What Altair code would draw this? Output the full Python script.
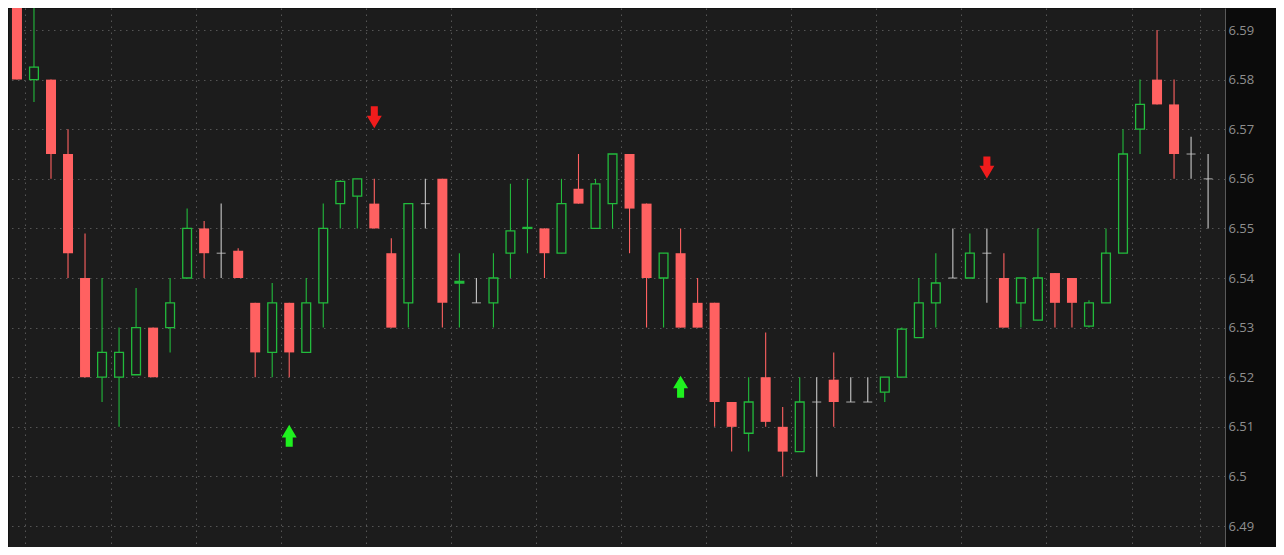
import altair as alt
import pandas as pd

# ---- candle data (index 0..70) ----
opens = [6.600, 6.580, 6.580, 6.565, 6.540, 6.520, 6.520, 6.5205, 6.530, 6.530,
         6.540, 6.550, 6.545, 6.5455, 6.535, 6.525, 6.535, 6.525, 6.535, 6.555,
         6.5565, 6.555, 6.545, 6.535, 6.555, 6.560, 6.539, 6.535, 6.535, 6.545,
         6.550, 6.550, 6.545, 6.558, 6.550, 6.555, 6.565, 6.555, 6.540, 6.545,
         6.535, 6.535, 6.515, 6.5087, 6.520, 6.510, 6.505, 6.515, 6.5195, 6.515,
         6.515, 6.517, 6.520, 6.528, 6.535, 6.540, 6.540, 6.545, 6.540, 6.535,
         6.5315, 6.541, 6.540, 6.5303, 6.535, 6.545, 6.570, 6.580, 6.575, 6.565,
         6.560]
highs = [6.605, 6.600, 6.580, 6.570, 6.549, 6.540, 6.530, 6.538, 6.530, 6.540,
         6.554, 6.5515, 6.555, 6.546, 6.535, 6.539, 6.535, 6.540, 6.555, 6.5597,
         6.560, 6.560, 6.548, 6.555, 6.560, 6.560, 6.545, 6.540, 6.545, 6.559,
         6.560, 6.550, 6.560, 6.565, 6.560, 6.565, 6.565, 6.555, 6.545, 6.550,
         6.540, 6.535, 6.515, 6.520, 6.529, 6.514, 6.520, 6.520, 6.525, 6.520,
         6.520, 6.520, 6.530, 6.540, 6.545, 6.550, 6.549, 6.550, 6.545, 6.540,
         6.550, 6.541, 6.540, 6.5355, 6.550, 6.570, 6.580, 6.590, 6.580, 6.5685,
         6.565]
lows = [6.580, 6.5755, 6.560, 6.540, 6.520, 6.515, 6.510, 6.5205, 6.520, 6.525,
        6.540, 6.540, 6.540, 6.540, 6.520, 6.520, 6.520, 6.525, 6.530, 6.550,
        6.550, 6.550, 6.530, 6.530, 6.550, 6.530, 6.530, 6.535, 6.530, 6.540,
        6.545, 6.540, 6.545, 6.555, 6.550, 6.550, 6.545, 6.530, 6.530, 6.530,
        6.530, 6.510, 6.505, 6.505, 6.510, 6.500, 6.505, 6.500, 6.510, 6.515,
        6.515, 6.515, 6.520, 6.528, 6.530, 6.540, 6.540, 6.535, 6.530, 6.530,
        6.5315, 6.530, 6.530, 6.530, 6.535, 6.545, 6.565, 6.575, 6.560, 6.560,
        6.550]
closes = [6.580, 6.5825, 6.565, 6.545, 6.520, 6.525, 6.525, 6.530, 6.520, 6.535,
          6.550, 6.545, 6.545, 6.540, 6.525, 6.535, 6.525, 6.535, 6.550, 6.5595,
          6.560, 6.550, 6.530, 6.555, 6.555, 6.535, 6.5393, 6.535, 6.540, 6.5495,
          6.5502, 6.545, 6.555, 6.555, 6.559, 6.565, 6.554, 6.540, 6.545, 6.530,
          6.530, 6.515, 6.510, 6.515, 6.511, 6.505, 6.515, 6.515, 6.515, 6.515,
          6.515, 6.520, 6.5297, 6.535, 6.539, 6.540, 6.545, 6.545, 6.530, 6.540,
          6.540, 6.535, 6.535, 6.535, 6.545, 6.565, 6.575, 6.575, 6.565, 6.565,
          6.560]

# signal arrows
up_arrow_idx = [16, 39]
up_arrow_price = [6.5082, 6.5181]
down_arrow_idx = [21, 57]
down_arrow_price = [6.5724, 6.5623]

# axis ticks / grid
price_ticks = [6.49, 6.50, 6.51, 6.52, 6.53, 6.54, 6.55, 6.56, 6.57, 6.58, 6.59]
time_grid = [0.5, 5.5, 10.5, 15.5, 20.5, 25.5, 30.5, 35.5, 40.5, 45.5,
             50.5, 55.5, 60.5, 65.5, 69.5]

GREEN = "#22bb3c"
RED = "#ff6161"
GREY = "#c8c8c8"
BG = "#1c1c1c"

dirs = []
for o, c in zip(opens, closes):
    dirs.append("up" if c > o else ("down" if c < o else "flat"))

df = pd.DataFrame({
    "idx": list(range(len(opens))),
    "open": opens, "high": highs, "low": lows, "close": closes, "dir": dirs,
})

arrows = pd.DataFrame({
    "idx": up_arrow_idx + down_arrow_idx,
    "price": up_arrow_price + down_arrow_price,
    "kind": ["up"] * len(up_arrow_idx) + ["down"] * len(down_arrow_idx),
})

xscale = alt.Scale(domain=[-0.233, 70.70], nice=False, zero=False)
yscale = alt.Scale(domain=[6.48577, 6.59444], nice=False, zero=False)
xaxis = alt.Axis(values=time_grid, grid=True, labels=False, ticks=False,
                 domain=False, title=None)
yaxis = alt.Axis(orient="right", values=price_ticks, format=".2~f", title=None,
                 grid=True, ticks=False, labelPadding=3)

def X():
    return alt.X("idx:Q", scale=xscale, axis=xaxis)

def Y(field):
    return alt.Y(field, scale=yscale, axis=yaxis)

color_scale = alt.Scale(domain=["up", "down", "flat"], range=[GREEN, RED, GREY])

base = alt.Chart(df)

wicks = base.mark_rule(strokeWidth=1.1, clip=True).encode(
    x=X(), y=Y("low:Q"), y2="high:Q",
    color=alt.Color("dir:N", scale=color_scale, legend=None),
)

down_bodies = base.mark_bar(size=10, color=RED, clip=True).encode(
    x=X(), y=Y("open:Q"), y2="close:Q",
).transform_filter(alt.datum.dir == "down")

up_bodies = base.mark_bar(size=8.8, fill=BG, stroke=GREEN, strokeWidth=1.3,
                          clip=True).encode(
    x=X(), y=Y("open:Q"), y2="close:Q",
).transform_filter(alt.datum.dir == "up")

flat_ticks = base.mark_tick(orient="horizontal", size=9, thickness=1.2,
                            color=GREY, clip=True).encode(
    x=X(), y=Y("close:Q"),
).transform_filter(alt.datum.dir == "flat")

UP_PATH = "M0,-1 L0.68,0.15 L0.32,0.15 L0.32,1 L-0.32,1 L-0.32,0.15 L-0.68,0.15 Z"
DOWN_PATH = "M0,1 L0.68,-0.15 L0.32,-0.15 L0.32,-1 L-0.32,-1 L-0.32,-0.15 L-0.68,-0.15 Z"

arr_base = alt.Chart(arrows)
up_arrows = arr_base.mark_point(shape=UP_PATH, size=484, filled=True,
                                color="#1ff01f", opacity=1, strokeWidth=0).encode(
    x=X(), y=Y("price:Q"),
).transform_filter(alt.datum.kind == "up")
down_arrows = arr_base.mark_point(shape=DOWN_PATH, size=484, filled=True,
                                  color="#f01c1c", opacity=1, strokeWidth=0).encode(
    x=X(), y=Y("price:Q"),
).transform_filter(alt.datum.kind == "down")

chart = alt.layer(
    wicks, down_bodies, up_bodies, flat_ticks, up_arrows, down_arrows
).properties(
    width=1217, height=539, background="#0b0b0b",
    padding={"left": 0, "top": 0, "right": 22, "bottom": 0},
).configure_view(
    fill=BG, stroke="transparent",
).configure_axis(
    gridColor="#555555", gridDash=[1.5, 4.5], gridWidth=1,
    domainColor="#5a5a5a", domainWidth=1,
    labelColor="#8f8f8f", labelFont="Open Sans", labelFontSize=13,
)

chart.save("out.html", embed_options={"renderer": "svg", "actions": False})
